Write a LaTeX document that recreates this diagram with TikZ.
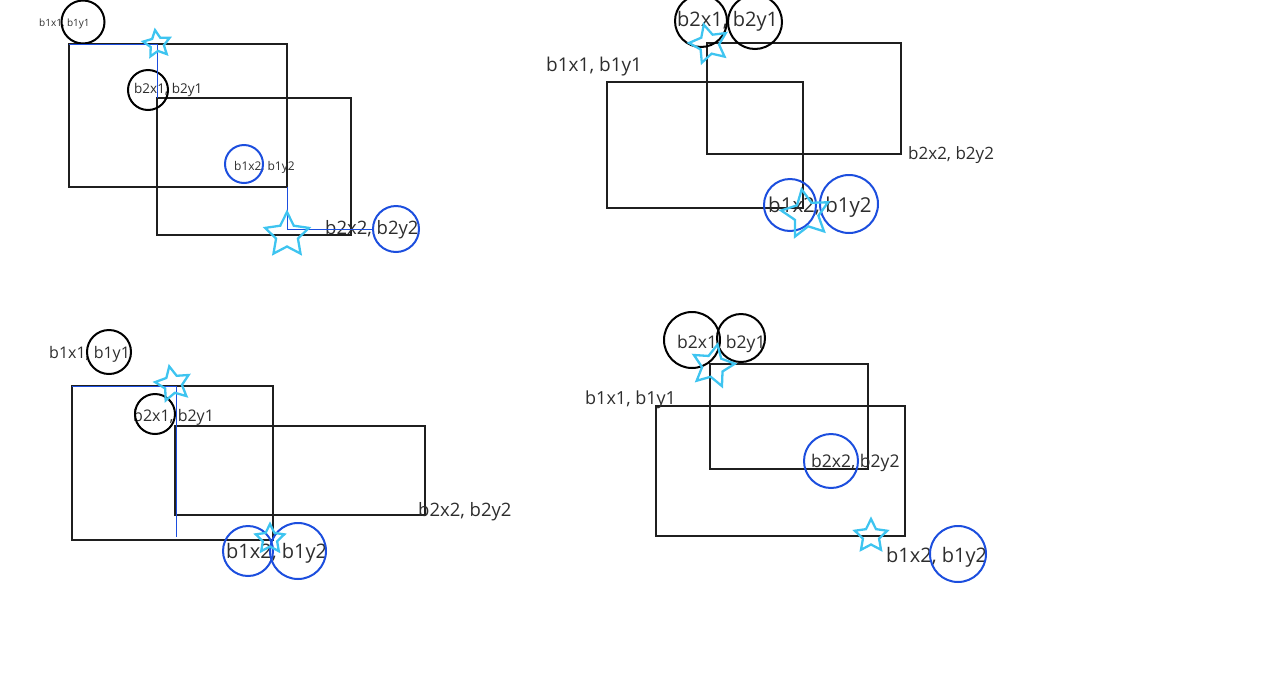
\documentclass[tikz,border=0pt]{standalone}
\usepackage{fontspec}
\setmainfont{Open Sans}
\usetikzlibrary{shapes.geometric}
\definecolor{inkgray}{RGB}{45,45,45}
\definecolor{inkblue}{RGB}{28,78,222}
\definecolor{inkcyan}{RGB}{62,196,240}
\tikzstyle{box}      = [line width=2pt, draw=black!88]
\tikzstyle{lbl}      = [text=inkgray, inner sep=0pt, anchor=west, yshift=-1.5pt]
\tikzstyle{ring}     = [circle, draw=black, line width=2pt, inner sep=0pt]
\tikzstyle{bluering} = [circle, draw=inkblue, line width=2pt, inner sep=0pt]
\tikzstyle{starmark} = [star, star points=5, star point ratio=2, draw=inkcyan, line width=2.3pt, inner sep=0pt]
\tikzstyle{trace}    = [draw=inkblue, line width=1pt]
\begin{document}
\begin{tikzpicture}[x=1pt, y=-1pt]
\useasboundingbox (0,0) rectangle (1280,689);

% panel 1 (vlevo nahoře)
\coordinate (p1a1) at (69,44);
\coordinate (p1a2) at (287,187);
\coordinate (p1b1) at (157,98);
\coordinate (p1b2) at (351,235);
\draw[box] (p1a1) rectangle (p1a2);
\draw[box] (p1b1) rectangle (p1b2);
\node[lbl, font=\fontsize{10}{12}\selectfont] (p1t1) at (39,22) {b1x1, b1y1};
\node[lbl, font=\fontsize{13.5}{16}\selectfont] (p1t2) at (134,88) {b2x1, b2y1};
\node[lbl, font=\fontsize{12}{14}\selectfont] (p1t3) at (234,166) {b1x2, b1y2};
\node[lbl, font=\fontsize{18.5}{22}\selectfont] (p1t4) at (325,228) {b2x2, b2y2};
\node[ring, minimum size=43] (p1c1) at (83,22) {};
\node[ring, minimum size=40] (p1c2) at (148,90) {};
\node[bluering, minimum size=38] (p1c3) at (244,164) {};
\node[bluering, minimum size=46] (p1c4) at (396,229) {};
\draw[trace] (p1a1) -| (p1b1);
\draw[trace] (p1a2) |- (p1c4.west);
\node[starmark, minimum size=28, shape border rotate=8] (p1s1) at (157,44) {};
\node[starmark, minimum size=46] (p1s2) at (287,235) {};

% panel 2 (vpravo nahoře)
\coordinate (p2a1) at (607,82);
\coordinate (p2a2) at (803,208);
\coordinate (p2b1) at (707,43);
\coordinate (p2b2) at (901,154);
\draw[box] (p2a1) rectangle (p2a2);
\draw[box] (p2b1) rectangle (p2b2);
\node[lbl, font=\fontsize{19}{22}\selectfont] (p2t1) at (546,65) {b1x1, b1y1};
\node[lbl, font=\fontsize{20}{24}\selectfont] (p2t2) at (677,20) {b2x1, b2y1};
\node[lbl, font=\fontsize{17}{20}\selectfont] (p2t3) at (908,154) {b2x2, b2y2};
\node[lbl, font=\fontsize{20.5}{24}\selectfont] (p2t4) at (768,206) {b1x2, b1y2};
\node[ring, minimum size=52] (p2c1) at (701,21) {};
\node[ring, minimum size=54] (p2c2) at (755,22) {};
\node[bluering, minimum size=52] (p2c3) at (790,205) {};
\node[bluering, minimum size=58] (p2c4) at (849,204) {};
\node[starmark, minimum size=40, shape border rotate=15] (p2s1) at (709,44) {};
\node[starmark, minimum size=50, shape border rotate=10] (p2s2) at (806,214) {};

% panel 3 (vlevo dole)
\coordinate (p3a1) at (72,386);
\coordinate (p3a2) at (273,540);
\coordinate (p3b1) at (175,426);
\coordinate (p3b2) at (425,515);
\coordinate (p3e) at (176,537);
\draw[box] (p3a1) rectangle (p3a2);
\draw[box] (p3b1) rectangle (p3b2);
\node[lbl, font=\fontsize{16}{19}\selectfont] (p3t1) at (49,353) {b1x1, b1y1};
\node[lbl, font=\fontsize{16}{19}\selectfont] (p3t2) at (133,416) {b2x1, b2y1};
\node[lbl, font=\fontsize{18.5}{22}\selectfont] (p3t3) at (418,510) {b2x2, b2y2};
\node[lbl, font=\fontsize{20}{24}\selectfont] (p3t4) at (226,552) {b1x2, b1y2};
\node[ring, minimum size=44] (p3c1) at (109,352) {};
\node[ring, minimum size=40] (p3c2) at (155,414) {};
\node[bluering, minimum size=50] (p3c3) at (248,551) {};
\node[bluering, minimum size=56] (p3c4) at (298,551) {};
\draw[trace] (p3a1) -| (p3e);
\node[starmark, minimum size=36, shape border rotate=12] (p3s1) at (173,384) {};
\node[starmark, minimum size=30] (p3s2) at (270,539) {};

% panel 4 (vpravo dole)
\coordinate (p4a1) at (656,406);
\coordinate (p4a2) at (905,536);
\coordinate (p4b1) at (710,364);
\coordinate (p4b2) at (868,469);
\draw[box] (p4a1) rectangle (p4a2);
\draw[box] (p4b1) rectangle (p4b2);
\node[lbl, font=\fontsize{17.5}{21}\selectfont] (p4t1) at (677,342) {b2x1, b2y1};
\node[lbl, font=\fontsize{18}{21}\selectfont] (p4t2) at (585,398) {b1x1, b1y1};
\node[lbl, font=\fontsize{17.5}{21}\selectfont] (p4t3) at (811,461) {b2x2, b2y2};
\node[lbl, font=\fontsize{20}{24}\selectfont] (p4t4) at (886,556) {b1x2, b1y2};
\node[ring, minimum size=56] (p4c1) at (692,340) {};
\node[ring, minimum size=48] (p4c2) at (741,338) {};
\node[bluering, minimum size=54] (p4c3) at (831,461) {};
\node[bluering, minimum size=56] (p4c4) at (958,554) {};
\node[starmark, minimum size=44, shape border rotate=-12] (p4s1) at (713,366) {};
\node[starmark, minimum size=34] (p4s2) at (871,536) {};

\end{tikzpicture}
\end{document}
